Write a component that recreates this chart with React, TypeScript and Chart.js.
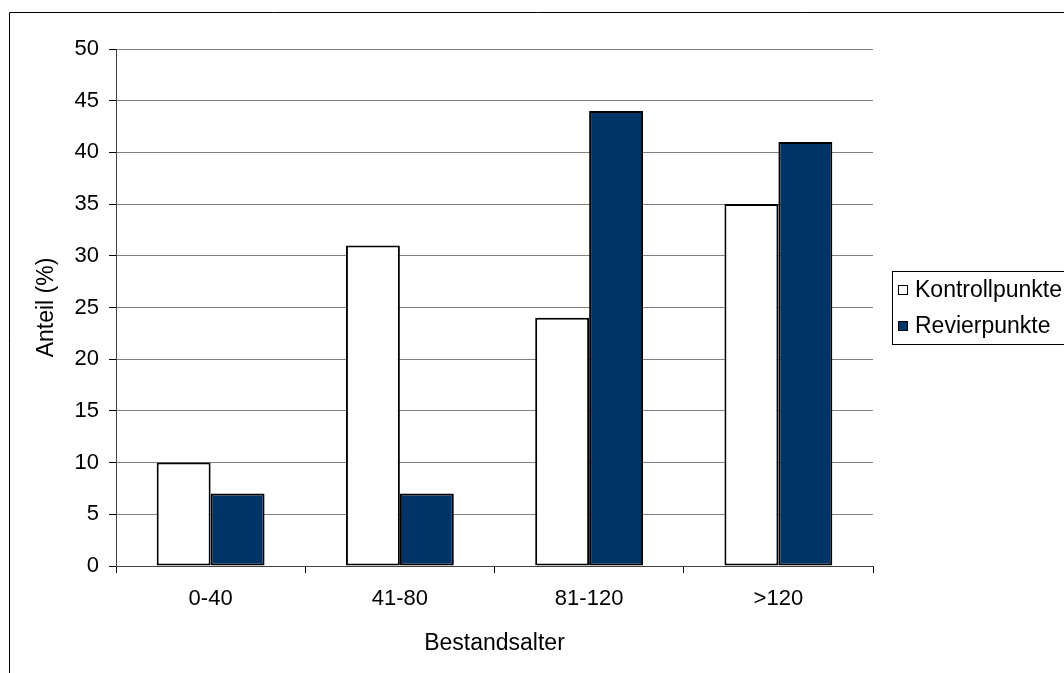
import React, { useEffect, useRef } from "react";
import { Chart, registerables } from "chart.js";

Chart.register(...registerables);

const categories = ["0-40", "41-80", "81-120", ">120"];
const kontrollpunkte = [10, 31, 24, 35];
const revierpunkte = [7, 7, 44, 41];
const seriesNames = ["Kontrollpunkte", "Revierpunkte"];
const seriesColors = ["#FFFFFF", "#003366"];
const yAxisTitle = "Anteil (%)";
const xAxisTitle = "Bestandsalter";

const FONT = "'Liberation Sans', Arial, sans-serif";

const framePlugin = {
  id: "frameAndLegend",
  afterDraw(chart: any) {
    const ctx = chart.ctx;
    ctx.save();
    // outer frame
    ctx.strokeStyle = "#000000";
    ctx.lineWidth = 1;
    ctx.beginPath();
    ctx.moveTo(9.5, 700);
    ctx.lineTo(9.5, 12.5);
    ctx.lineTo(1100, 12.5);
    ctx.stroke();
    // legend box
    ctx.strokeStyle = "#000000";
    ctx.strokeRect(892.5, 271.5, 200, 73);
    ctx.font = `23px ${FONT}`;
    ctx.textBaseline = "middle";
    ctx.textAlign = "left";
    const ys = [290, 326];
    chart.data.datasets.forEach((ds: any, i: number) => {
      const y = ys[i];
      ctx.fillStyle = ds.backgroundColor;
      ctx.fillRect(898.5, y - 4.5, 9, 9);
      ctx.strokeStyle = "#000000";
      ctx.strokeRect(898.5, y - 4.5, 9, 9);
      ctx.fillStyle = "#000000";
      ctx.fillText(ds.label, 915, y + 1);
    });
    ctx.restore();
  },
};

export default function App() {
  const ref = useRef<HTMLCanvasElement>(null);
  useEffect(() => {
    if (!ref.current) return;
    const chart = new Chart(ref.current, {
      type: "bar",
      data: {
        labels: categories,
        datasets: [
          {
            label: seriesNames[0],
            data: kontrollpunkte,
            backgroundColor: seriesColors[0],
            borderColor: "#000000",
            borderWidth: 2,
            borderSkipped: false,
            categoryPercentage: 0.57,
            barPercentage: 1,
          },
          {
            label: seriesNames[1],
            data: revierpunkte,
            backgroundColor: seriesColors[1],
            borderColor: "#000000",
            borderWidth: 2,
            borderSkipped: false,
            categoryPercentage: 0.57,
            barPercentage: 1,
          },
        ],
      },
      options: {
        responsive: false,
        animation: false,
        layout: { padding: { top: 49, right: 191, left: 0, bottom: 0 } },
        plugins: {
          legend: { display: false },
          tooltip: { enabled: false },
          title: { display: false },
        },
        scales: {
          x: {
            afterFit: (s: any) => {
              s.height = 107;
            },
            grid: {
              drawOnChartArea: false,
              drawTicks: true,
              tickLength: 7,
              tickColor: "#000000",
              offset: true,
            },
            border: { color: "#404040", width: 1 },
            ticks: {
              color: "#000000",
              font: { family: FONT, size: 22 },
              padding: 13,
              maxRotation: 0,
            },
            title: {
              display: true,
              text: xAxisTitle,
              color: "#000000",
              font: { family: FONT, size: 23 },
              padding: { top: 0, bottom: 16 },
            },
          },
          y: {
            min: 0,
            max: 50,
            afterFit: (s: any) => {
              s.width = 116;
            },
            grid: {
              color: "#808080",
              lineWidth: 1,
              drawTicks: true,
              tickLength: 7,
              tickColor: "#000000",
            },
            border: { color: "#404040", width: 1 },
            ticks: {
              stepSize: 5,
              color: "#000000",
              font: { family: FONT, size: 22 },
              padding: 10,
            },
            title: {
              display: true,
              text: yAxisTitle,
              color: "#000000",
              font: { family: FONT, size: 23 },
              padding: { top: 33, bottom: 0 },
            },
          },
        },
      },
      plugins: [framePlugin],
    });
    return () => chart.destroy();
  }, []);
  return (
    <div style={{ position: "fixed", left: 0, top: 0, width: 1064, height: 673, background: "#fff" }}>
      <canvas ref={ref} width={1064} height={673} style={{ width: 1064, height: 673, display: "block" }} />
    </div>
  );
}
